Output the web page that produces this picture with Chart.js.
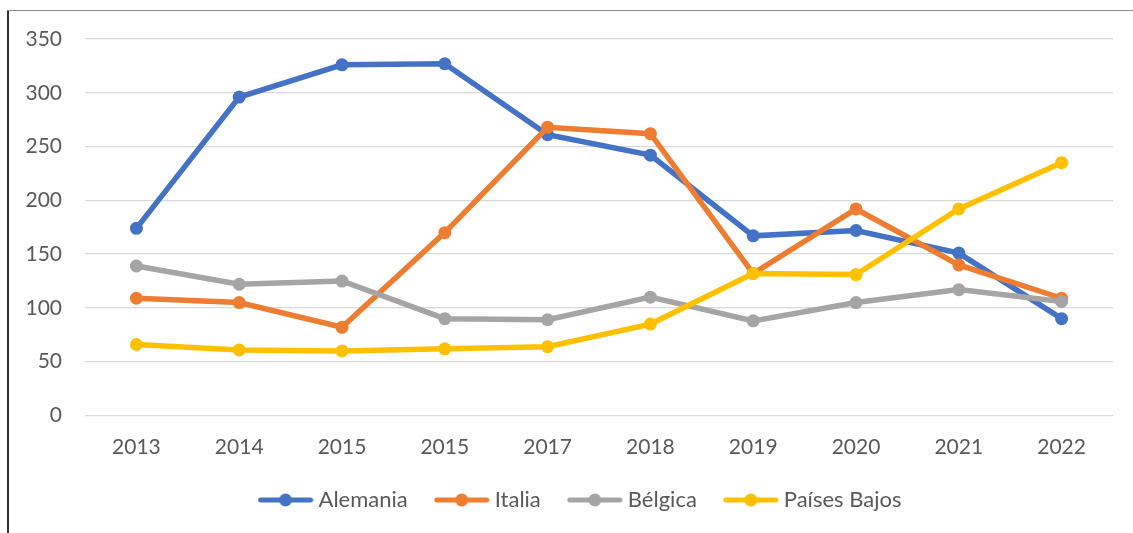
<!DOCTYPE html>
<html>
<head>
<meta charset="utf-8">
<script src="https://cdn.jsdelivr.net/npm/chart.js@4"></script>
<style>
  body { margin: 0; background: #fff; }
  #wrap { position: relative; width: 1133px; height: 533px; overflow: hidden; }
  #frameLeft { position: absolute; left: 7px; top: 10px; width: 2px; height: 523px; background: #303030; }
  #frameTop { position: absolute; left: 7px; top: 10px; width: 1126px; height: 1px; background: #8a8a8a; }
  canvas { position: absolute; left: 0; top: 0; }
</style>
</head>
<body>
<div id="wrap">
  <canvas id="chart" width="1133" height="533"></canvas>
  <div id="frameLeft"></div>
  <div id="frameTop"></div>
</div>
<script>
// Data
const categories = ['2013', '2014', '2015', '2015', '2017', '2018', '2019', '2020', '2021', '2022'];
const alemania = [174, 296, 326, 327, 261, 242, 167, 172, 151, 90];
const italia = [109, 105, 82, 170, 268, 262, 132, 192, 140, 109];
const belgica = [139, 122, 125, 90, 89, 110, 88, 105, 117, 106];
const paisesBajos = [66, 61, 60, 62, 64, 85, 132, 131, 192, 235];
const yTicks = [0, 50, 100, 150, 200, 250, 300, 350];

const seriesNames = ['Alemania', 'Italia', 'Bélgica', 'Países Bajos'];
const seriesColors = ['#4472C4', '#ED7D31', '#A5A5A5', '#FFC000'];
const seriesData = [alemania, italia, belgica, paisesBajos];

const textColor = '#595959';
const fontFamily = 'Lato, "Open Sans", sans-serif';

// small legend icon: line with a dot in the middle
function legendIcon(color) {
    const c = document.createElement('canvas');
    c.width = 56;
    c.height = 14;
    const g = c.getContext('2d');
    g.strokeStyle = color;
    g.lineWidth = 5;
    g.lineCap = 'round';
    g.beginPath();
    g.moveTo(3, 7);
    g.lineTo(53, 7);
    g.stroke();
    g.fillStyle = color;
    g.beginPath();
    g.arc(28, 7, 6.5, 0, Math.PI * 2);
    g.fill();
    return c;
}

// the legend row sits a bit right of the canvas centre in the original
const legendShift = {
    id: 'legendShift',
    afterLayout(chart) {
        chart.legend.left += 26;
        chart.legend.right += 26;
    }
};

const datasets = seriesNames.map((name, i) => ({
    label: name,
    data: seriesData[i],
    borderColor: seriesColors[i],
    backgroundColor: seriesColors[i],
    borderWidth: 5.5,
    pointRadius: 6.5,
    pointHoverRadius: 6.5,
    pointBorderWidth: 0,
    tension: 0,
    order: seriesNames.length - i   // later series drawn on top
}));

new Chart(document.getElementById('chart').getContext('2d'), {
    type: 'line',
    data: { labels: categories, datasets: datasets },
    options: {
        responsive: false,
        animation: false,
        layout: { padding: { left: 0, right: 20, top: 39, bottom: 12 } },
        plugins: {
            tooltip: { enabled: false },
            legend: {
                position: 'bottom',
                labels: {
                    color: textColor,
                    font: { family: fontFamily, size: 22 },
                    usePointStyle: true,
                    pointStyleWidth: 44,   // icon overhangs the box so the text sits close
                    boxHeight: 14,
                    padding: 32,
                    sort: (a, b) => a.datasetIndex - b.datasetIndex,
                    generateLabels: (chart) => {
                        const items = Chart.defaults.plugins.legend.labels.generateLabels(chart);
                        items.forEach(it => { it.pointStyle = legendIcon(seriesColors[it.datasetIndex]); });
                        return items;
                    }
                }
            }
        },
        scales: {
            x: {
                offset: true,
                grid: { display: false },
                border: { display: false },
                ticks: {
                    color: textColor,
                    font: { family: fontFamily, size: 21 },
                    padding: 11,
                    maxRotation: 0
                },
                afterFit: (scale) => { scale.height = 41.5; }
            },
            y: {
                min: 0,
                max: 350,
                afterBuildTicks: (scale) => { scale.ticks = yTicks.map(v => ({ value: v })); },
                grid: { color: '#d9d9d9', lineWidth: 1.3, drawTicks: false },
                border: { display: false },
                ticks: {
                    color: textColor,
                    font: { family: fontFamily, size: 21 },
                    padding: 23
                },
                afterFit: (scale) => { scale.width = 85; }
            }
        }
    },
    plugins: [legendShift]
});
</script>
</body>
</html>
